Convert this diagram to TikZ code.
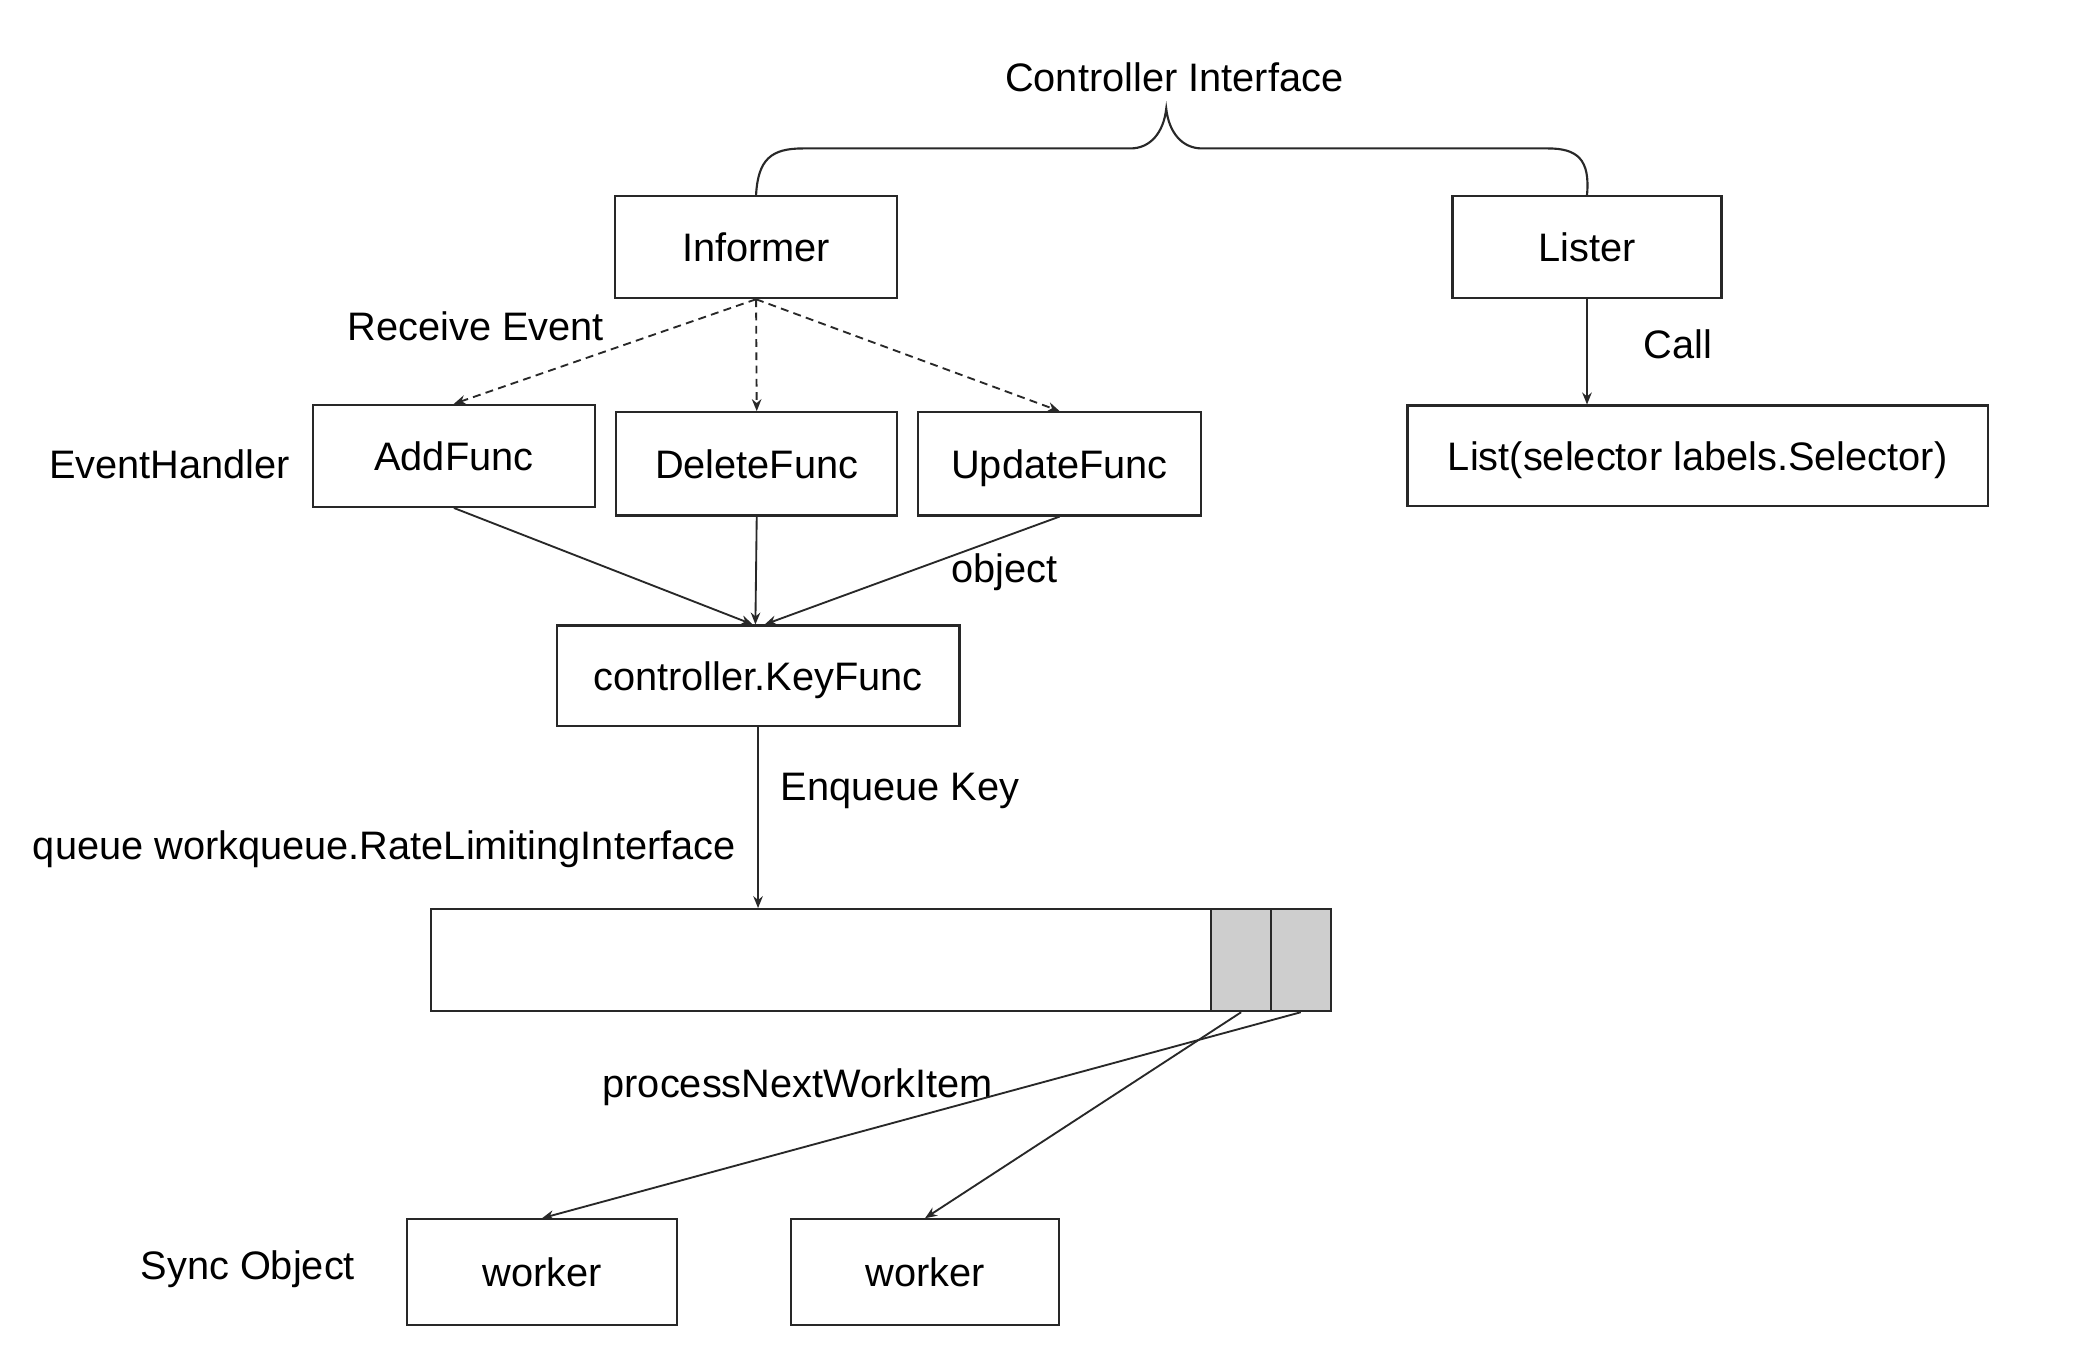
\documentclass[tikz,border=0pt]{standalone}
\usepackage{fontspec}
\setmainfont{Liberation Sans}
\usetikzlibrary{arrows.meta}
\definecolor{cellgray}{RGB}{206,206,206}
\definecolor{ink}{RGB}{40,40,40}
\begin{document}
\begin{tikzpicture}[x=0.5pt,y=-0.5pt,
  box/.style={draw=ink, line width=0.8pt, fill=white, inner sep=0pt, text height=10.8pt, text depth=0pt, font=\fontsize{15}{18}\selectfont},
  lbl/.style={inner sep=0pt, text height=10.8pt, text depth=0pt, font=\fontsize{15}{18}\selectfont},
  arr/.style={draw=ink, line width=0.7pt, -{Stealth[length=4.5pt,width=3.6pt]}},
  darr/.style={arr, dash pattern=on 3pt off 2pt}]
\useasboundingbox (0,0) rectangle (1568,1034);
\fill[white] (0,0) rectangle (1568,1034);

% boxes
\node[box, minimum width=106.5pt, minimum height=38.5pt] (inf) at (570.5,186.5) {Informer};
\node[box, minimum width=101.5pt, minimum height=38.5pt] (lis) at (1197.5,186.5) {Lister};
\node[box, minimum width=106.5pt, minimum height=38.5pt] (add) at (342.5,344) {AddFunc};
\node[box, minimum width=106pt, minimum height=39pt] (del) at (571,350) {DeleteFunc};
\node[box, minimum width=106.5pt, minimum height=39pt] (upd) at (799.5,350) {UpdateFunc};
\node[box, minimum width=152pt, minimum height=38pt] (key) at (572,510) {controller.KeyFunc};
\node[box, minimum width=219pt, minimum height=38pt] (lst) at (1281,344) {List(selector labels.Selector)};
\node[box, minimum width=339.5pt, minimum height=38.5pt] (queue) at (664.5,724.5) {};
\node[box, fill=cellgray, minimum width=22.5pt, minimum height=38.5pt] (c1) at (936.5,724.5) {};
\node[box, fill=cellgray, minimum width=22.5pt, minimum height=38.5pt] (c2) at (981.5,724.5) {};
\node[box, minimum width=102pt, minimum height=40pt] (w1) at (409,960) {worker};
\node[box, minimum width=101pt, minimum height=40pt] (w2) at (698,960) {worker};

% labels
\node[lbl] (ci) at (886,58) {Controller Interface};
\node[lbl] (re) at (359,246) {Receive Event};
\node[lbl] (eh) at (128,350) {EventHandler};
\node[lbl] (call) at (1266,260) {Call};
\node[lbl] (obj) at (758,429) {object};
\node[lbl] (enq) at (679,593) {Enqueue Key};
\node[lbl] (qw) at (290,638) {queue workqueue.RateLimitingInterface};
\node[lbl] (pn) at (602,817) {processNextWorkItem};
\node[lbl] (so) at (187,955) {Sync Object};

% brace
\draw[ink, line width=0.8pt]
  (inf.north) .. controls (572,120) and (582,112) .. (606,112)
  -- (853,112) .. controls (868,112) and (878,100) .. (880,82)
  .. controls (882,100) and (892,112) .. (907,112)
  -- (1168,112) .. controls (1190,112) and (1200,120) .. (lis.north);

% dashed event arrows
\draw[darr] (inf.south) -- (add.north);
\draw[darr] (inf.south) -- (del.north);
\draw[darr] (inf.south) -- (upd.north);

% to key func
\draw[arr] (add.south) -- ([xshift=-2pt]key.north);
\draw[arr] (del.south) -- ([xshift=-1pt]key.north);
\draw[arr] (upd.south) -- ([xshift=2.5pt]key.north);

% lister call
\draw[arr] (lis.south) -- (lst.north -| lis.south);

% enqueue
\draw[arr] (key.south) -- (key.south |- queue.north);

% process
\draw[arr] (c1.south) -- (w2.north);
\draw[arr] (c2.south) -- (w1.north);
\end{tikzpicture}
\end{document}
